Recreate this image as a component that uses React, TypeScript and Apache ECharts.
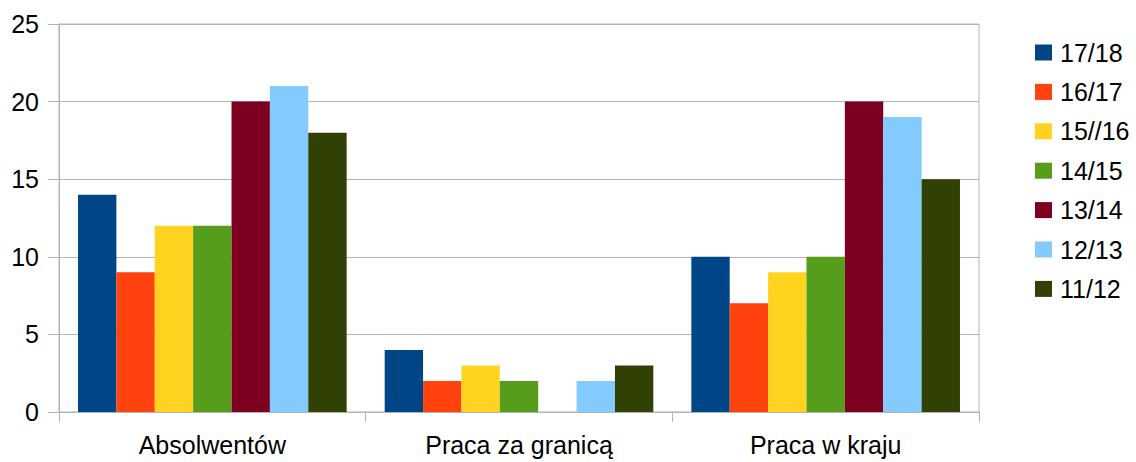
import React, { useEffect, useRef } from "react";
import * as echarts from "echarts";

const categories = ["Absolwentów", "Praca za granicą", "Praca w kraju"];
const seriesNames = ["17/18", "16/17", "15//16", "14/15", "13/14", "12/13", "11/12"];
const s1718 = [14, 4, 10];
const s1617 = [9, 2, 7];
const s1516 = [12, 3, 9];
const s1415 = [12, 2, 10];
const s1314 = [20, 0, 20];
const s1213 = [21, 2, 19];
const s1112 = [18, 3, 15];
const seriesValues = [s1718, s1617, s1516, s1415, s1314, s1213, s1112];
const colors = ["#004586", "#ff420e", "#ffd320", "#579d1c", "#7e0021", "#83caff", "#314004"];

export default function App() {
  const ref = useRef<HTMLDivElement>(null);
  useEffect(() => {
    document.body.style.margin = "0";
    if (!ref.current) return;
    const chart = echarts.init(ref.current, undefined, { renderer: "svg" });
    const font = "'Liberation Sans', Arial, sans-serif";
    chart.setOption({
      animation: false,
      backgroundColor: "#ffffff",
      textStyle: { fontFamily: font },
      grid: {
        left: 59,
        right: 157,
        top: 24,
        bottom: 50,
        show: true,
        borderColor: "#b3b3b3",
        borderWidth: 1,
      },
      legend: {
        orient: "vertical",
        left: 1035,
        top: 40,
        padding: 0,
        itemWidth: 17,
        itemHeight: 16,
        itemGap: 14.4,
        icon: "rect",
        textStyle: { fontSize: 25, color: "#000", fontFamily: font, lineHeight: 25, padding: [0, 0, 0, 3] },
        data: seriesNames,
      },
      xAxis: {
        type: "category",
        data: categories,
        axisLine: { show: true, lineStyle: { color: "#b3b3b3", width: 1 } },
        axisTick: { show: true, length: 10, lineStyle: { color: "#b3b3b3" } },
        axisLabel: { fontSize: 25, color: "#000", margin: 20, fontFamily: font },
        splitLine: { show: false },
      },
      yAxis: {
        type: "value",
        min: 0,
        max: 25,
        interval: 5,
        axisLine: { show: true, lineStyle: { color: "#b3b3b3", width: 1 } },
        axisTick: { show: true, length: 11, lineStyle: { color: "#b3b3b3" } },
        axisLabel: { fontSize: 25, color: "#000", margin: 20, fontFamily: font },
        splitLine: { show: true, lineStyle: { color: "#b3b3b3", width: 1 } },
      },
      series: seriesNames.map((name, i) => ({
        name,
        type: "bar",
        data: seriesValues[i],
        itemStyle: { color: colors[i] },
        barGap: "0%",
        barCategoryGap: "12.4%",
      })),
    });
    return () => chart.dispose();
  }, []);
  return <div ref={ref} style={{ width: 1136, height: 462 }} />;
}
